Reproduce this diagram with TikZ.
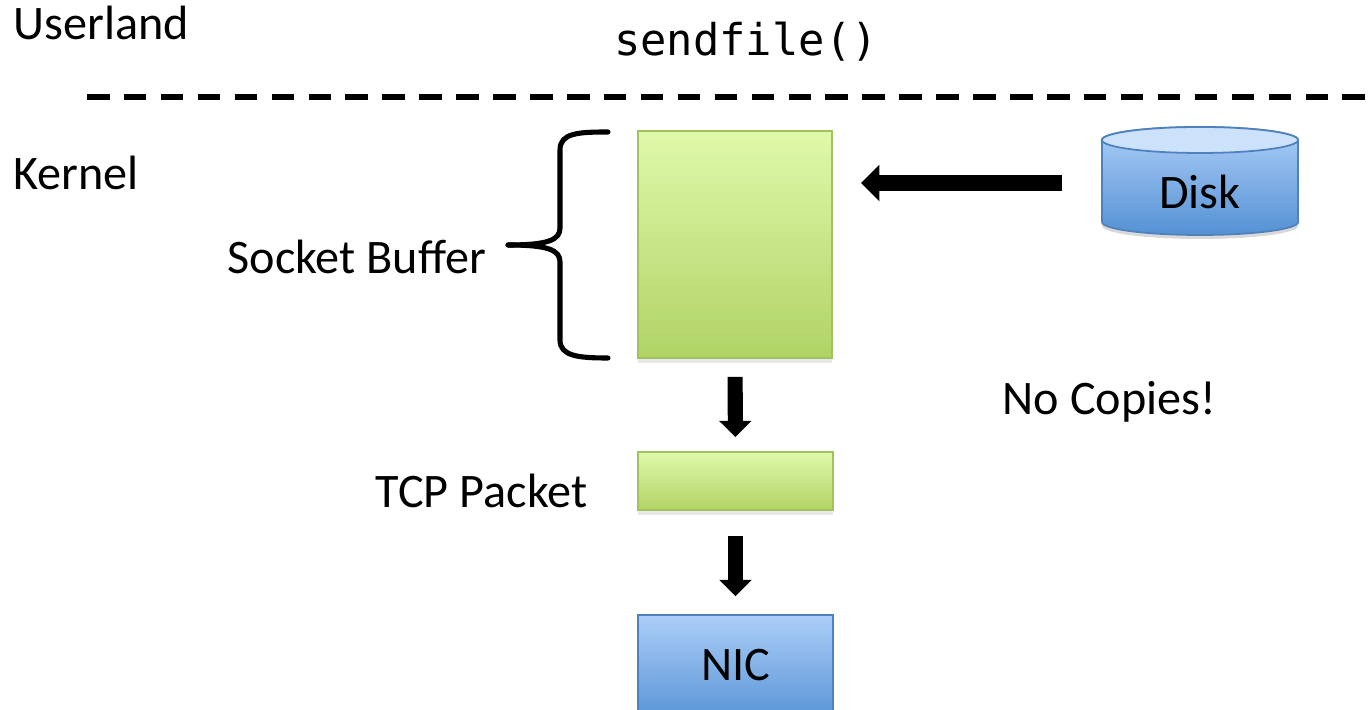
\documentclass[tikz,border=0pt]{standalone}
\usepackage{fontspec}
\setmainfont{Carlito}
\newfontfamily\monof{DejaVu Sans Mono}
\usetikzlibrary{arrows.meta,shadows}
\definecolor{gtop}{RGB}{223,249,170}
\definecolor{gbot}{RGB}{176,211,101}
\definecolor{gline}{RGB}{160,195,95}
\definecolor{btop}{RGB}{172,206,248}
\definecolor{bbot}{RGB}{84,145,212}
\definecolor{bline}{RGB}{79,129,189}
\definecolor{blight}{RGB}{204,225,250}
\tikzset{
  lbl/.style={font=\fontsize{13.7pt}{16pt}\selectfont, inner sep=0pt, anchor=base},
  gbox/.style={draw=gline, line width=0.5pt, top color=gtop, bottom color=gbot, inner sep=0pt,
    drop shadow={opacity=0.18, shadow xshift=0pt, shadow yshift=-1.3pt}},
  bbox/.style={draw=bline, line width=0.5pt, top color=btop, bottom color=bbot, inner sep=0pt,
    drop shadow={opacity=0.18, shadow xshift=0pt, shadow yshift=-1.3pt}},
  fatleft/.style={line width=4.8pt, -{Triangle[width=10.4pt,length=5.2pt,line width=0pt]}},
  fatdown/.style={line width=4.3pt, -{Triangle[width=9.2pt,length=4.6pt,line width=0pt]}},
  sepline/.style={line width=1.7pt, dash pattern=on 6.4pt off 4.1pt},
  bracestyle/.style={line width=1.45pt, line cap=round, line join=round}
}
\begin{document}
\begin{tikzpicture}[x=0.01cm, y=-0.01cm]
\useasboundingbox (0,0) rectangle (1369,710);
\clip (0,0) rectangle (1369,710);

% texts
\node[lbl, anchor=base west] (userland) at (13,40) {Userland};
\node[inner sep=0pt, anchor=base, font=\monof\fontsize{12.45pt}{14pt}\selectfont] (sendfile) at (746,56) {sendfile()};
\node[lbl, anchor=base west] (kernel) at (13,190) {Kernel};
\node[lbl, anchor=base west] (sblabel) at (227,274) {Socket Buffer};
\node[lbl, anchor=base west] (tcplabel) at (375,508) {TCP Packet};
\node[lbl, anchor=base west] (nocopies) at (1002,415) {No Copies!};

% separator
\coordinate (sepA) at (87,97);
\coordinate (sepB) at (1380,97);
\draw[sepline] (sepA) -- (sepB);

% boxes
\node[gbox, minimum width=1.94cm, minimum height=2.27cm] (sb) at (735,244.5) {};
\node[gbox, minimum width=1.95cm, minimum height=0.58cm] (tcp) at (735.5,481) {};
\node[bbox, minimum width=1.95cm, minimum height=1.10cm] (nic) at (735.5,670) {};
\node[lbl] at (736,681) {NIC};

% disk cylinder
\fill[black, opacity=0.15] (1102,144) -- (1102,226) arc[start angle=180, end angle=360, x radius=0.98cm, y radius=0.13cm] -- (1298,144) -- cycle;
\draw[bline, line width=0.5pt, top color=btop, bottom color=bbot]
  (1102,140) -- (1102,222) arc[start angle=180, end angle=360, x radius=0.98cm, y radius=0.13cm]
  -- (1298,140) arc[start angle=0, end angle=180, x radius=0.98cm, y radius=0.13cm] -- cycle;
\draw[bline, line width=0.5pt, fill=blight] (1200,140) ellipse [x radius=0.98cm, y radius=0.13cm];
\node[inner sep=0pt, minimum width=1.96cm, minimum height=1.0cm] (disk) at (1200,183) {};
\node[lbl] (disklabel) at (1200,209) {Disk};

% brace
\draw[bracestyle] (608,132) .. controls (578,132) and (560,133) .. (560,150) -- (560,228)
  .. controls (560,240) and (548,245) .. (508,245);
\draw[bracestyle] (508,245) .. controls (548,245) and (560,250) .. (560,262) -- (560,340)
  .. controls (560,356) and (578,358) .. (608,358);

% arrows
\draw[fatleft, shorten <=11.1pt, shorten >=8pt] (disk.west) -- (sb.east |- disk.west);
\draw[fatdown, shorten <=5.1pt, shorten >=4pt] (sb.south) -- (tcp.north);
\draw[fatdown, shorten <=7.1pt, shorten >=5.1pt] (tcp.south) -- (nic.north);
\end{tikzpicture}
\end{document}
